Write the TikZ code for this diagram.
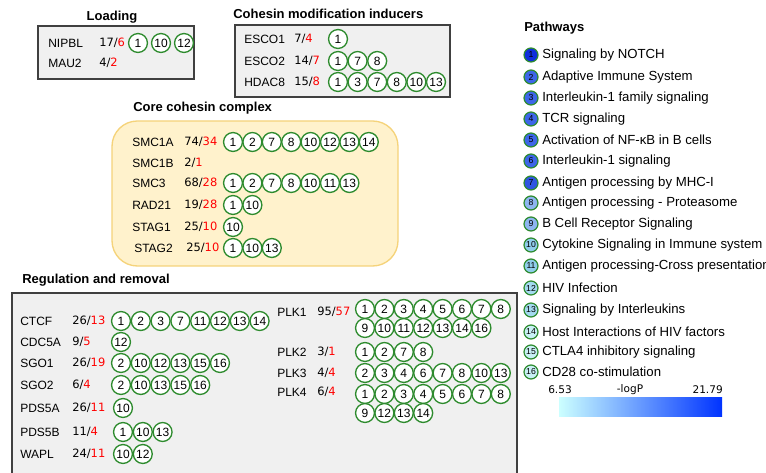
\documentclass[tikz,border=0pt]{standalone}
\usepackage{fontspec}
\setmainfont{Liberation Sans}
\newfontfamily\numfont{DejaVu Sans}
\usepackage{xcolor}
\definecolor{pwgreen}{HTML}{2E8B2E}
\definecolor{boxgray}{HTML}{F0F0F0}
\definecolor{boxline}{HTML}{404040}
\definecolor{corefill}{HTML}{FFF2CC}
\definecolor{coreline}{HTML}{F5D37A}
\definecolor{hitred}{HTML}{FF0000}
\definecolor{lgA}{HTML}{0F30DC}
\definecolor{lgB}{HTML}{3D66E8}
\definecolor{lgC}{HTML}{2F55E0}
\definecolor{lgD}{HTML}{8DB5F0}
\definecolor{lgE}{HTML}{8FCDEA}
\definecolor{lgF}{HTML}{A4DAF0}
\definecolor{lgG}{HTML}{C8F0F5}
\definecolor{barlo}{HTML}{CCFFFF}
\definecolor{barhi}{HTML}{0033FF}

\tikzset{
  gene/.style={anchor=west, inner sep=0pt, font=\fontsize{9}{10}\selectfont},
  count/.style={anchor=west, inner sep=0pt, font=\fontsize{8.6}{10}\selectfont\numfont},
  grouptitle/.style={inner sep=0pt, font=\fontsize{9.75}{11}\selectfont\bfseries},
  pw/.style={circle, draw=pwgreen, line width=1pt, fill=white, minimum size=14.2pt, inner sep=0pt, font=\fontsize{9}{10}\selectfont},
  lgcircle/.style={circle, draw=pwgreen, line width=0.9pt, minimum size=10.5pt, inner sep=0pt, font=\fontsize{6.5}{7}\selectfont},
  lgtext/.style={anchor=west, inner sep=0pt, font=\fontsize{9.9}{11}\selectfont},
  barlab/.style={inner sep=0pt, font=\fontsize{7.9}{9}\selectfont\numfont},
  graybox/.style={draw=boxline, fill=boxgray, line width=1pt}
}

% gene label and count
\newcommand{\generow}[7]{%
  \node[gene] (#1) at (#3,#2) {#4};
  \node[count] (#1-n) at (#5,#2) {#6/\textcolor{hitred}{#7}};
}
% pathway circles
\newcommand{\pathrow}[5]{%
  \foreach \p [count=\i from 0] in {#5}
    \node[pw] (#1-\p) at ({#2+\i*#4},#3) {\p};
}

\begin{document}
\begin{tikzpicture}[x=0.75pt, y=-0.75pt]
\useasboundingbox (0,0) rectangle (766,473);

% Loading
\node[grouptitle] (loadtitle) at (112,17) {Loading};
\draw[graybox] (38,26) rectangle (194,79);
\generow{nipbl}{43}{48}{NIPBL}{99}{17}{6}
\pathrow{nipblp}{138}{43}{23}{1,10,12}
\generow{mau2}{63}{48}{MAU2}{99}{4}{2}

% Cohesin modification inducers
\node[grouptitle, anchor=west] (modtitle) at (233,14) {Cohesin modification inducers};
\draw[graybox] (235,25) rectangle (450,97);
\generow{esco1}{39}{244}{ESCO1}{294}{7}{4}
\pathrow{esco1p}{338}{39}{19.6}{1}
\generow{esco2}{61}{244}{ESCO2}{294}{14}{7}
\pathrow{esco2p}{338}{61}{19.6}{1,7,8}
\generow{hdac8}{82}{244}{HDAC8}{294}{15}{8}
\pathrow{hdac8p}{338}{82}{19.6}{1,3,7,8,10,13}

% Core cohesin complex
\node[grouptitle, anchor=west] (coretitle) at (133,108) {Core cohesin complex};
\draw[draw=coreline, fill=corefill, line width=1pt, rounded corners=19pt] (112,121) rectangle (398,266);
\generow{smc1a}{142}{132}{SMC1A}{184}{74}{34}
\pathrow{smc1ap}{233}{142}{19.4}{1,2,7,8,10,12,13,14}
\generow{smc1b}{163}{132}{SMC1B}{184}{2}{1}
\generow{smc3}{183}{132}{SMC3}{184}{68}{28}
\pathrow{smc3p}{233}{183}{19.4}{1,2,7,8,10,11,13}
\generow{rad21}{205}{132}{RAD21}{184}{19}{28}
\pathrow{rad21p}{233}{205}{19.4}{1,10}
\generow{stag1}{227}{132}{STAG1}{184}{25}{10}
\pathrow{stag1p}{233}{227}{19.4}{10}
\generow{stag2}{248}{134}{STAG2}{186}{25}{10}
\pathrow{stag2p}{233}{248}{19.4}{1,10,13}

% Regulation and removal
\node[grouptitle, anchor=west] (regtitle) at (22,280) {Regulation and removal};
\fill[boxgray] (12,293) rectangle (517,474);
\draw[boxline, line width=1pt] (12,474) -- (12,293) -- (517,293) -- (517,474);
\generow{ctcf}{321}{20}{CTCF}{72}{26}{13}
\pathrow{ctcfp}{121}{321}{19.8}{1,2,3,7,11,12,13,14}
\generow{cdc5a}{342}{20}{CDC5A}{72}{9}{5}
\pathrow{cdc5ap}{121}{342}{19.8}{12}
\generow{sgo1}{363}{20}{SGO1}{72}{26}{19}
\pathrow{sgo1p}{121}{363}{19.8}{2,10,12,13,15,16}
\generow{sgo2}{385}{20}{SGO2}{72}{6}{4}
\pathrow{sgo2p}{121}{385}{19.8}{2,10,13,15,16}
\generow{pds5a}{408}{20}{PDS5A}{72}{26}{11}
\pathrow{pds5ap}{123}{408}{19.8}{10}
\generow{pds5b}{432}{20}{PDS5B}{72}{11}{4}
\pathrow{pds5bp}{123}{432}{19.8}{1,10,13}
\generow{wapl}{454}{20}{WAPL}{72}{24}{11}
\pathrow{waplp}{123}{454}{19.8}{10,12}

\generow{plk1}{312}{277}{PLK1}{317}{95}{57}
\pathrow{plk1p}{365}{309}{19.4}{1,2,3,4,5,6,7,8}
\pathrow{plk1q}{365}{328}{19.4}{9,10,11,12,13,14,16}
\generow{plk2}{352}{277}{PLK2}{317}{3}{1}
\pathrow{plk2p}{365}{352}{19.4}{1,2,7,8}
\generow{plk3}{373}{277}{PLK3}{317}{4}{4}
\pathrow{plk3p}{365}{373}{19.4}{2,3,4,6,7,8,10,13}
\generow{plk4}{392}{277}{PLK4}{317}{6}{4}
\pathrow{plk4p}{365}{394}{19.4}{1,2,3,4,5,6,7,8}
\pathrow{plk4q}{365}{413}{19.4}{9,12,13,14}

% Pathways legend
\node[grouptitle, anchor=west] (lgtitle) at (524,28) {Pathways};
\foreach \n/\yy/\col/\txt in {
  1/55/lgA/Signaling by NOTCH,
  2/77/lgB/Adaptive Immune System,
  3/98/lgB/Interleukin-1 family signaling,
  4/119/lgB/TCR signaling,
  5/140/lgB/Activation of NF-κB in B cells,
  6/161/lgB/Interleukin-1 signaling,
  7/183/lgC/Antigen processing by MHC-I,
  8/203/lgD/Antigen processing - Proteasome,
  9/224/lgD/B Cell Receptor Signaling,
  10/245/lgE/Cytokine Signaling in Immune system,
  11/266/lgE/Antigen processing-Cross presentation,
  12/288/lgF/HIV Infection,
  13/310/lgF/Signaling by Interleukins,
  14/332/lgG/Host Interactions of HIV factors,
  15/352/lgG/CTLA4 inhibitory signaling,
  16/372/lgG/CD28 co-stimulation}
{
  \node[lgcircle, fill=\col] (lg\n) at (531,\yy) {\n};
  \node[lgtext] (lgtext\n) at (542,\yy) {\txt};
}

% colour bar
\shade[left color=barlo, right color=barhi] (559,397) rectangle (722,416);
\node[barlab, anchor=west] (barmin) at (548,390) {6.53};
\node[barlab] (barlabel) at (630,390) {-logP};
\node[barlab, anchor=east] (barmax) at (723,390) {21.79};
\end{tikzpicture}
\end{document}
